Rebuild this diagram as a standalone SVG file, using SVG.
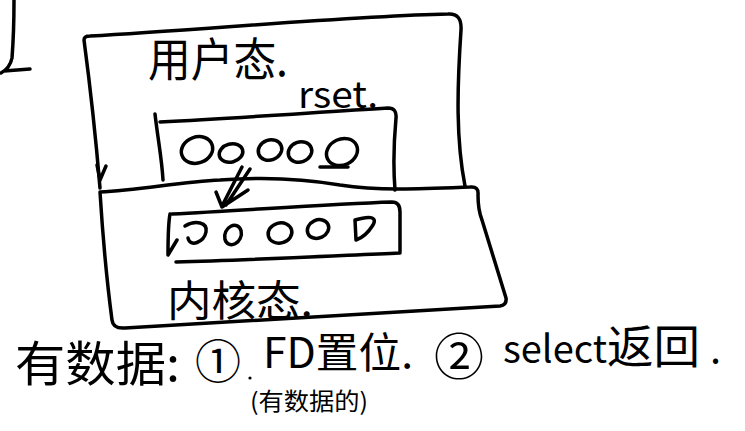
<svg xmlns="http://www.w3.org/2000/svg" width="745" height="431" viewBox="0 0 745 431">
<style>
.s{fill:none;stroke:#000;stroke-width:3.5;stroke-linecap:round;stroke-linejoin:round}
.t{font-family:"Noto Sans CJK SC","Noto Sans",sans-serif;fill:#000}
.d{fill:#000}
</style>
<rect width="745" height="431" fill="#fff"/>
<g id="fragment">
<path class="s" d="M14,0 C14,20 13,45 12,58 Q10,68 1,73 M4,71 L30,69"/>
</g>
<g id="user-space">
<path class="s" d="M100,188 C96,140 88,70 84,40 Q84,36 90,36 C200,30 350,16 448,14 Q462,13 461,30 C457,90 456,140 465,186"/>
<text class="t" x="148" y="76" font-size="46" textLength="140" lengthAdjust="spacingAndGlyphs">用户态.</text>
</g>
<g id="kernel-space">
<path class="s" d="M100,192 C140,190 180,182 220,180 C260,177 300,178 340,185 C380,191 420,189 470,187 Q479,186 478,195 C478,205 480,215 482,220 L506,298 Q507,305 500,306 L125,328 Q113,329 112,320 C108,290 103,240 100,192"/>
<text class="t" x="167" y="316" font-size="42" textLength="146" lengthAdjust="spacingAndGlyphs">内核态.</text>
</g>
<g id="rset-box">
<path class="s" d="M155,114 C158,140 162,160 163,180 M160,122 C240,118 320,112 388,108 Q397,108 396,118 C394,140 393,165 395,190"/>
<text class="t" x="298" y="108" font-size="36" textLength="80" lengthAdjust="spacingAndGlyphs">rset.</text>
<g class="s">
<ellipse cx="197" cy="150" rx="16" ry="13" transform="rotate(-20 197 150)"/>
<ellipse cx="231" cy="153" rx="12" ry="9" transform="rotate(-15 231 153)"/>
<ellipse cx="270" cy="150" rx="12" ry="10" transform="rotate(-20 270 150)"/>
<ellipse cx="300" cy="152" rx="12" ry="10" transform="rotate(-20 300 152)"/>
<ellipse cx="342" cy="152" rx="16" ry="13" transform="rotate(-25 342 152)"/>
<path d="M320,167 L348,167"/>
</g>
</g>
<g id="kernel-fdset">
<path class="s" d="M172,214 C250,210 330,204 392,202 Q400,202 400,212 L400,252 M176,262 C250,260 330,256 400,253"/>
<g class="s">
<path d="M185,226 C195,220 208,222 206,232 C204,242 190,248 188,238"/>
<ellipse cx="233" cy="235" rx="8" ry="10" transform="rotate(25 233 235)"/>
<ellipse cx="280" cy="233" rx="12" ry="10" transform="rotate(-15 280 233)"/>
<ellipse cx="318" cy="229" rx="11" ry="9" transform="rotate(-25 318 229)"/>
<path d="M355,220 L356,240 M355,220 C368,216 378,216 373,225 C368,233 362,238 356,240"/>
</g>
</g>
<g id="connectors">
<path class="s" d="M242,167 L222,206 M250,169 L226,205 M216,192 L222,207 L248,190"/>
<path class="s" d="M97,165 L100,180 L106,166"/>
<path class="s" d="M170,214 C168,225 168,240 168,255 L177,240"/>
</g>
<g id="note">
<text class="t" x="15" y="381" font-size="48" textLength="165" lengthAdjust="spacingAndGlyphs">有数据:</text>
<text class="t" x="195" y="378" font-size="46">①</text>
<text class="t" x="263" y="368" font-size="42" textLength="150" lengthAdjust="spacingAndGlyphs">FD置位.</text>
<circle class="d" cx="250" cy="378" r="1.6"/>
<text class="t" x="250" y="410" font-size="24" textLength="118" lengthAdjust="spacingAndGlyphs">(有数据的)</text>
<text class="t" x="434" y="375" font-size="50">②</text>
<text class="t" x="503" y="363" font-size="38" textLength="104" lengthAdjust="spacingAndGlyphs">select</text>
<text class="t" x="607" y="363" font-size="46" textLength="93" lengthAdjust="spacingAndGlyphs">返回</text>
<text class="t" x="710" y="363" font-size="40">.</text>
</g>
</svg>
